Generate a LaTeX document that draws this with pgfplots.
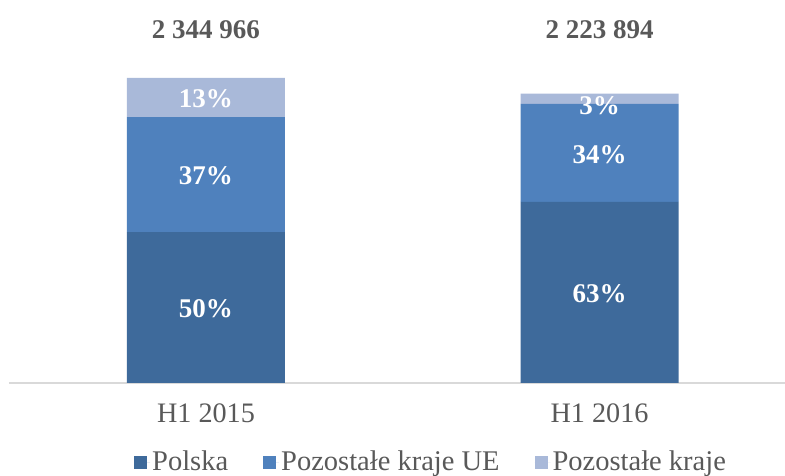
\documentclass[border=0pt]{standalone}
\usepackage{pgfplots}
\pgfplotsset{compat=1.18}
\usepackage{fontspec}
\setmainfont{Liberation Serif}
\definecolor{cPL}{HTML}{3E6A9B}
\definecolor{cUE}{HTML}{4F81BD}
\definecolor{cRest}{HTML}{A9B9D9}
\definecolor{txt}{HTML}{595959}
\definecolor{axl}{HTML}{D9D9D9}
% the 3% label sits a little below its thin segment
\newcommand\lowlabel[1]{\raisebox{-13.75pt}[0pt][0pt]{#1}}
\begin{document}
\fontsize{27}{32}\selectfont
\begin{tikzpicture}
\path[use as bounding box] (0,0) rectangle (785pt,476pt);
\begin{axis}[
    at={(9pt,93pt)}, anchor=south west,
    scale only axis, width=776pt, height=305pt,
    ybar stacked, bar width=158pt,
    xmin=-0.5006, xmax=1.4714, ymin=0, ymax=2344966,
    axis x line*=bottom, axis y line=none,
    x axis line style={draw=axl, line width=1.5pt},
    xtick={0,1}, xticklabels={H1 2015,H1 2016},
    ytick=\empty, major tick length=0pt,
    xticklabel style={text=txt, yshift=-12pt, font=\fontsize{28.2}{32}\selectfont},
    point meta=explicit symbolic,
    nodes near coords,
    nodes near coords style={text=white, font=\bfseries, anchor=center, yshift=-1.5pt},
    legend columns=3,
    legend style={draw=none, fill=none, inner sep=0pt,
        at={(axis description cs:0,0)}, anchor=west, xshift=125pt, yshift=-80pt,
        text=txt, column sep=0pt, font=\fontsize{28.5}{32}\selectfont,
        /tikz/every even column/.append style={column sep=33pt}},
    legend image code/.code={\fill[#1,draw=none] (0pt,-6.5pt) rectangle (13pt,6.5pt);
        \path (0pt,0pt) -- (16pt,0pt);},
    clip=false,
]
\addplot[fill=cPL, draw=none] coordinates {(0,1160758) [50\%] (1,1392158) [63\%]};
\addplot[fill=cUE, draw=none] coordinates {(0,884052) [37\%] (1,753900) [34\%]};
\addplot[fill=cRest, draw=none] coordinates {(0,300156) [13\%] (1,77836) [\lowlabel{3\%}]};
\legend{Polska, Pozostałe kraje UE, Pozostałe kraje}
\node[anchor=base, font=\bfseries, text=txt, yshift=344pt] at (axis cs:0,0) {2 344 966};
\node[anchor=base, font=\bfseries, text=txt, yshift=344pt] at (axis cs:1,0) {2 223 894};
\end{axis}
\end{tikzpicture}
\end{document}
